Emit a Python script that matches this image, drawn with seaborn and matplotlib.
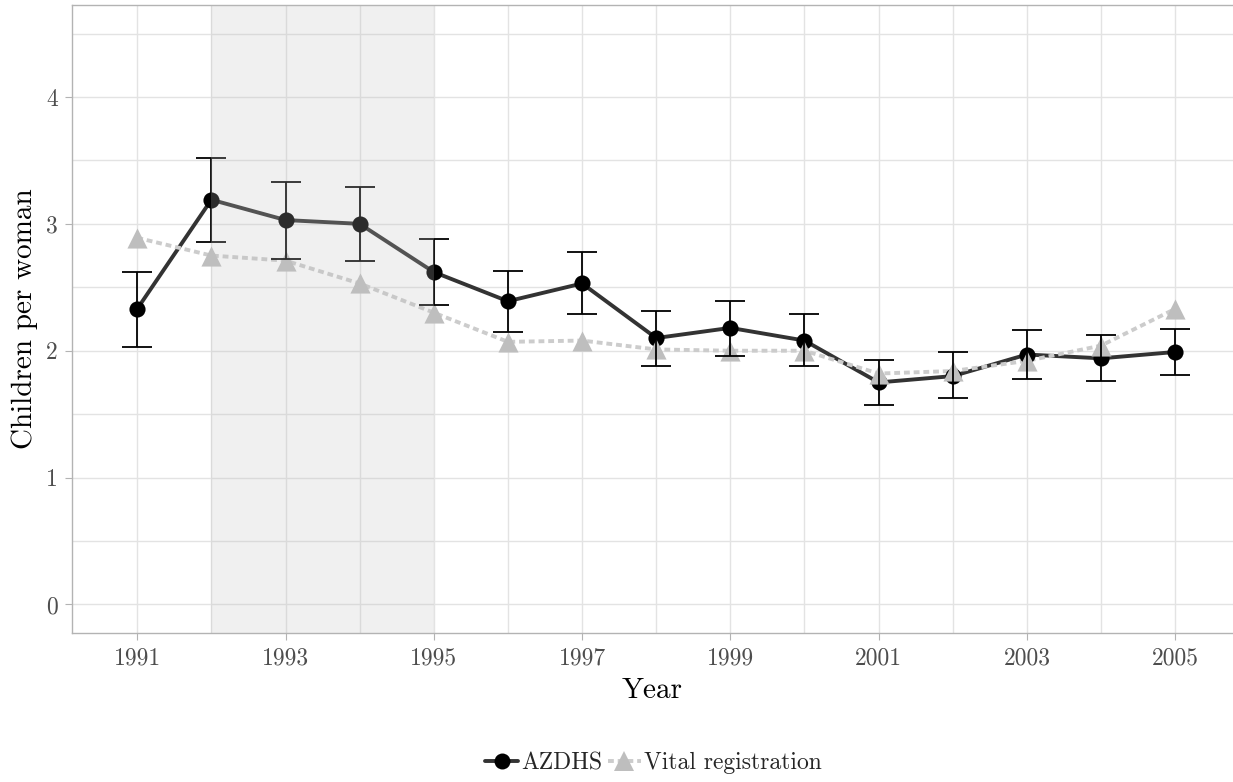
#
#   fertility trend: AZDHS survey estimates vs vital registration
#

import matplotlib.pyplot as plt
from matplotlib.lines import Line2D
import pandas as pd
import seaborn as sns

years = list(range(1991, 2006))
azdhs = [2.33, 3.19, 3.03, 3.00, 2.62, 2.39, 2.53, 2.10, 2.18, 2.08, 1.75, 1.80, 1.97, 1.94, 1.99]
azdhs_lo = [2.03, 2.86, 2.72, 2.71, 2.36, 2.15, 2.29, 1.88, 1.96, 1.88, 1.57, 1.63, 1.78, 1.76, 1.81]
azdhs_hi = [2.62, 3.52, 3.33, 3.29, 2.88, 2.63, 2.78, 2.31, 2.39, 2.29, 1.93, 1.99, 2.16, 2.12, 2.17]
vital = [2.89, 2.75, 2.71, 2.53, 2.30, 2.07, 2.08, 2.01, 2.00, 2.00, 1.82, 1.84, 1.92, 2.04, 2.33]
shade = (1992, 1995)
year_ticks = list(range(1991, 2006, 2))
y_ticks = [0, 1, 2, 3, 4]

df = pd.DataFrame({
    'year': years * 2,
    'tfr': azdhs + vital,
    'source': ['AZDHS'] * len(years) + ['Vital registration'] * len(years),
})

sns.set_theme(style='white')
plt.rcParams['font.family'] = ['cmr10', 'DejaVu Serif']
plt.rcParams['axes.formatter.use_mathtext'] = True

fig = plt.figure(figsize=(12.33, 7.82), dpi=100)
ax = fig.add_axes([72 / 1233, 1 - 633 / 782, 1 - 72 / 1233, 628 / 782])

line_pal = {'AZDHS': '#333333', 'Vital registration': '#cccccc'}
pt_pal = {'AZDHS': '#000000', 'Vital registration': '#bebebe'}

sns.lineplot(data=df, x='year', y='tfr', hue='source', style='source', palette=line_pal,
             dashes={'AZDHS': '', 'Vital registration': (1.5, 1)}, linewidth=2.8,
             legend=False, ax=ax, zorder=3)
sns.scatterplot(data=df[df.source == 'AZDHS'], x='year', y='tfr', color=pt_pal['AZDHS'],
                marker='o', s=135, linewidth=0, legend=False, ax=ax, zorder=4)
sns.scatterplot(data=df[df.source == 'Vital registration'], x='year', y='tfr',
                color=pt_pal['Vital registration'], marker='^', s=210, linewidth=0,
                legend=False, ax=ax, zorder=5)

err_lo = [a - l for a, l in zip(azdhs, azdhs_lo)]
err_hi = [h - a for a, h in zip(azdhs, azdhs_hi)]
ax.errorbar(years, azdhs, yerr=[err_lo, err_hi], fmt='none', ecolor='black',
            elinewidth=1.3, capsize=11, capthick=1.3, zorder=6)

# shaded period sits on top of the data, like a translucent overlay
ax.axvspan(shade[0], shade[1], color='#bfbfbf', alpha=0.23, lw=0, zorder=10)

ax.set_xlim(1990.12, 2005.78)
ax.set_ylim(-0.225, 4.725)
ax.set_xticks(year_ticks)
ax.set_xticklabels([str(y) for y in year_ticks])
ax.set_xticks(years, minor=True)
ax.set_yticks(y_ticks)
ax.set_yticklabels([str(y) for y in y_ticks])
ax.set_yticks([0.5, 1.5, 2.5, 3.5, 4.5], minor=True)
ax.grid(which='both', color='#e3e3e3', lw=1.0, zorder=0)
ax.set_axisbelow(True)
ax.tick_params(which='major', length=5, width=0.8, color='#b3b3b3', labelcolor='#4d4d4d',
               labelsize=17, pad=5, bottom=True, left=True)
ax.tick_params(which='minor', length=0)
for side in ['left', 'bottom', 'top']:
    ax.spines[side].set_color('#b3b3b3')
    ax.spines[side].set_linewidth(1.0)
ax.spines['right'].set_visible(False)

ax.set_xlabel('Year', fontsize=21, color='black', labelpad=6)
ax.set_ylabel('Children per woman', fontsize=21, color='black', labelpad=6)

handles = [
    Line2D([], [], color=line_pal['AZDHS'], lw=2.8, marker='o', markersize=11.5,
           markerfacecolor=pt_pal['AZDHS'], markeredgewidth=0),
    Line2D([], [], color=line_pal['Vital registration'], lw=2.8, ls=(0, (1.5, 1)), marker='^',
           markersize=14, markerfacecolor=pt_pal['Vital registration'], markeredgewidth=0),
]
fig.legend(handles, ['AZDHS', 'Vital registration'], loc='center', bbox_to_anchor=(0.53, 0.024),
           ncol=2, frameon=False, fontsize=17, handlelength=1.4, handletextpad=0.15,
           columnspacing=0.2)

fig.savefig('out.png', dpi=100)
